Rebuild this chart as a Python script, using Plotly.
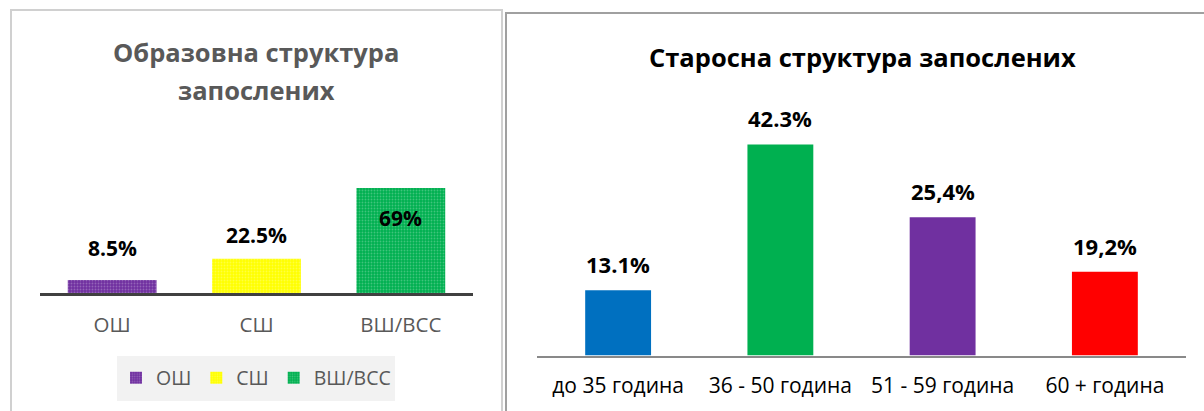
import plotly.graph_objects as go

W, H = 1204, 411

# ---------------- data ----------------
edu_categories = ["ОШ", "СШ", "ВШ/ВСС"]
edu_values = [8.5, 22.5, 69]
edu_labels = ["8.5%", "22.5%", "69%"]

age_categories = ["до 35 година", "36 - 50 година", "51 - 59 година", "60 + година"]
age_values = [13.1, 42.3, 27.7, 16.8]          # bar heights as drawn
age_labels = ["13.1%", "42.3%", "25,4%", "19,2%"]  # printed labels

# ---------------- styles ----------------
edu_colors = ["#7030A0", "#FFFF00", "#00B050"]
age_colors = ["#0070C0", "#00B050", "#7030A0", "#FF0000"]
edu_label_shift = [32, 24, -30]
age_label_shift = 26
FONT = "Open Sans"


def px(x):
    return x / W


def py(y):
    return 1 - y / H


fig = go.Figure()

for cat, val, col in zip(edu_categories, edu_values, edu_colors):
    fig.add_trace(go.Bar(
        x=[cat], y=[val], name=cat, width=0.615,
        marker=dict(color=col, line=dict(width=0),
                    pattern=dict(shape=".", fgcolor="white", fgopacity=0.25,
                                 size=3, solidity=0.3)),
        xaxis="x", yaxis="y", hoverinfo="skip",
    ))

fig.add_trace(go.Bar(
    x=age_categories, y=age_values, width=0.406,
    marker=dict(color=age_colors, line=dict(width=0)),
    xaxis="x2", yaxis="y2", showlegend=False, hoverinfo="skip",
))

annotations = []
for cat, val, lab, sh in zip(edu_categories, edu_values, edu_labels, edu_label_shift):
    annotations.append(dict(x=cat, y=val, xref="x", yref="y", text=lab,
                            showarrow=False, xanchor="center", yanchor="middle", yshift=sh,
                            font=dict(family=FONT, size=21, color="black", weight="bold")))
for cat, val, lab in zip(age_categories, age_values, age_labels):
    annotations.append(dict(x=cat, y=val, xref="x2", yref="y2", text=lab,
                            showarrow=False, xanchor="center", yanchor="middle",
                            yshift=age_label_shift,
                            font=dict(family=FONT, size=22, color="black", weight="bold")))

title_font_l = dict(family=FONT, size=25.5, color="#595959", weight="bold")
annotations += [
    dict(x=px(256), y=py(52), xref="paper", yref="paper", text="Образовна структура",
         showarrow=False, xanchor="center", yanchor="middle", font=title_font_l),
    dict(x=px(256), y=py(90), xref="paper", yref="paper", text="запослених",
         showarrow=False, xanchor="center", yanchor="middle", font=title_font_l),
    dict(x=px(862), y=py(57), xref="paper", yref="paper", text="Старосна структура запослених",
         showarrow=False, xanchor="center", yanchor="middle",
         font=dict(family=FONT, size=25.5, color="black", weight="bold")),
]

shapes = [
    dict(type="rect", xref="paper", yref="paper", x0=px(117), x1=px(395),
         y0=py(401), y1=py(356), fillcolor="#f2f2f2", line=dict(width=0), layer="below"),
    dict(type="rect", xref="paper", yref="paper", x0=px(11), x1=px(502),
         y0=py(440), y1=py(10), line=dict(color="#d0d0d0", width=2), fillcolor="rgba(0,0,0,0)"),
    dict(type="rect", xref="paper", yref="paper", x0=px(506), x1=px(1230),
         y0=py(440), y1=py(13), line=dict(color="#a0a0a0", width=2), fillcolor="rgba(0,0,0,0)"),
]

fig.update_layout(
    width=W, height=H, margin=dict(l=0, r=0, t=0, b=0),
    paper_bgcolor="white", plot_bgcolor="rgba(0,0,0,0)",
    barmode="overlay",
    font=dict(family=FONT),
    xaxis=dict(domain=[px(40), px(473)], anchor="y", showline=True, linecolor="#404040",
               linewidth=3, ticks="", showgrid=False, zeroline=False, ticklabelstandoff=11,
               tickfont=dict(family=FONT, size=20.5, color="#595959"), fixedrange=True),
    yaxis=dict(domain=[py(293), py(150)], range=[0, (293 - 150) / 1.52], visible=False,
               fixedrange=True),
    xaxis2=dict(domain=[px(537), px(1186)], anchor="y2", showline=True, linecolor="#898989",
                linewidth=2, ticks="", showgrid=False, zeroline=False, ticklabelstandoff=10,
                tickfont=dict(family=FONT, size=21, color="black"), fixedrange=True),
    yaxis2=dict(domain=[py(355.5), py(100)], range=[0, 255.5 / 4.99], visible=False,
                fixedrange=True),
    legend=dict(orientation="h", x=px(256), xanchor="center", y=py(378), yanchor="middle",
                bgcolor="rgba(0,0,0,0)", font=dict(family=FONT, size=19.5, color="#595959"),
                itemclick=False, itemdoubleclick=False, itemwidth=30),
    annotations=annotations,
    shapes=shapes,
)

fig.write_html("out.html")
